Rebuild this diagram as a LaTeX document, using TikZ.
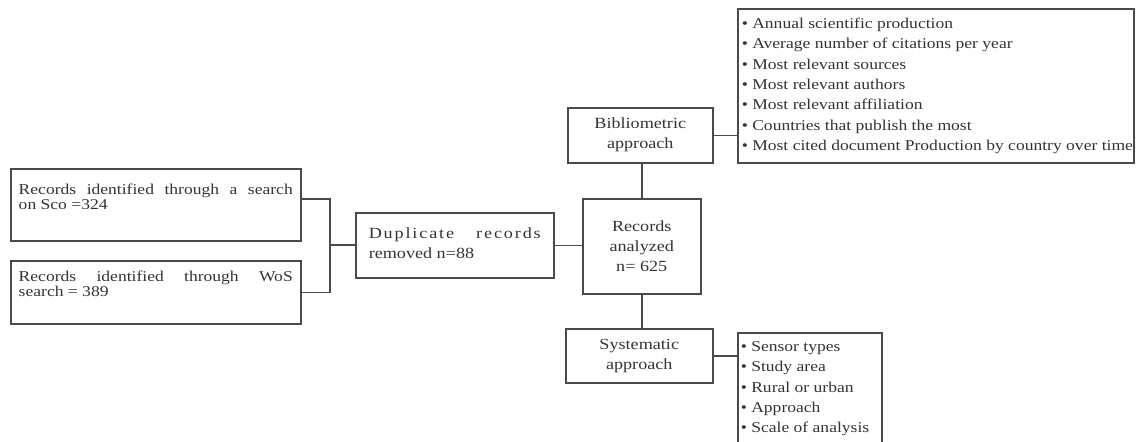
\documentclass[tikz,border=0pt]{standalone}
\usepackage{fontspec}
\setmainfont{Liberation Serif}[FakeStretch=1.17]
\usetikzlibrary{calc}
\definecolor{ln}{HTML}{4A4A4A}
\definecolor{tx}{HTML}{333333}
\begin{document}
\begin{tikzpicture}[x=1pt,y=-1pt,
  box/.style={draw=ln, line width=1.5pt, rectangle, inner sep=0pt, text=tx, anchor=north west},
  conn/.style={draw=ln, line width=1.5pt},
  leftfont/.style={font=\fontsize{15}{15}\selectfont},
  midfont/.style={font=\fontsize{15.5}{20}\selectfont, align=center},
  listfont/.style={font=\fontsize{15}{20.3}\selectfont}]
\useasboundingbox (0,0) rectangle (1136,442);

% source boxes
\node[box, leftfont, minimum width=290, minimum height=72] (sco) at (10,168)
  {\parbox[c][66pt][t]{274pt}{\vspace{12pt}\hbox to 274pt{Records\hfill identified\hfill through\hfill a\hfill search}\par on Sco =324}};
\node[box, leftfont, minimum width=290, minimum height=63] (wos) at (10,260)
  {\parbox[c][57pt][t]{274pt}{\vspace{7pt}\hbox to 274pt{Records\hfill identified\hfill through\hfill WoS}\par search = 389}};

% duplicates
\node[box, midfont, minimum width=198, minimum height=65] (dup) at (355,212)
  {\parbox{172pt}{\hbox to 172pt{\addfontfeature{LetterSpace=12}Duplicate\hfill records}\par removed n=88\vspace{4pt}}};

% analyzed
\node[box, midfont, minimum width=118, minimum height=95] (rec) at (582,198)
  {Records\\analyzed\\n= 625};

% approaches
\node[box, midfont, minimum width=145, minimum height=55] (bib) at (567,107)
  {Bibliometric\\approach};
\node[box, midfont, minimum width=147, minimum height=54] (sys) at (565,328)
  {Systematic\\approach};

% lists
\node[box, listfont, minimum width=396, minimum height=154] (bl) at (737,8)
  {\parbox[c][150pt][c]{388pt}{\raggedright
   \mbox{• Annual scientific production}\\
   \mbox{• Average number of citations per year}\\
   \mbox{• Most relevant sources}\\
   \mbox{• Most relevant authors}\\
   \mbox{• Most relevant affiliation}\\
   \mbox{• Countries that publish the most}\\
   \mbox{• Most cited document Production by country over time}}};
\node[box, listfont, minimum width=144, minimum height=130] (sl) at (737,332)
  {\parbox[c][126pt][t]{138pt}{\raggedright\vspace{7pt}
   \mbox{• Sensor types}\\
   \mbox{• Study area}\\
   \mbox{• Rural or urban}\\
   \mbox{• Approach}\\
   \mbox{• Scale of analysis}}};

% connectors
\coordinate (j) at (330,245);
\draw[conn] ($(sco.north east)!0.42!(sco.south east)$) -| (j);
\draw[conn] ($(wos.north east)!0.5!(wos.south east)$) -| (j);
\draw[conn] (j) -- (j -| dup.west);
\draw[conn] (dup.east) -- (dup.east -| rec.west);
\draw[conn] (rec.north) -- (rec.north |- bib.south);
\draw[conn] (rec.south) -- (rec.south |- sys.north);
\draw[conn] ($(bib.north east)!0.5!(bib.south east)$) -- ($(bib.north east)!0.5!(bib.south east) + (25,0)$);
\draw[conn] (sys.east) -- (sys.east -| sl.west);
\end{tikzpicture}
\end{document}
